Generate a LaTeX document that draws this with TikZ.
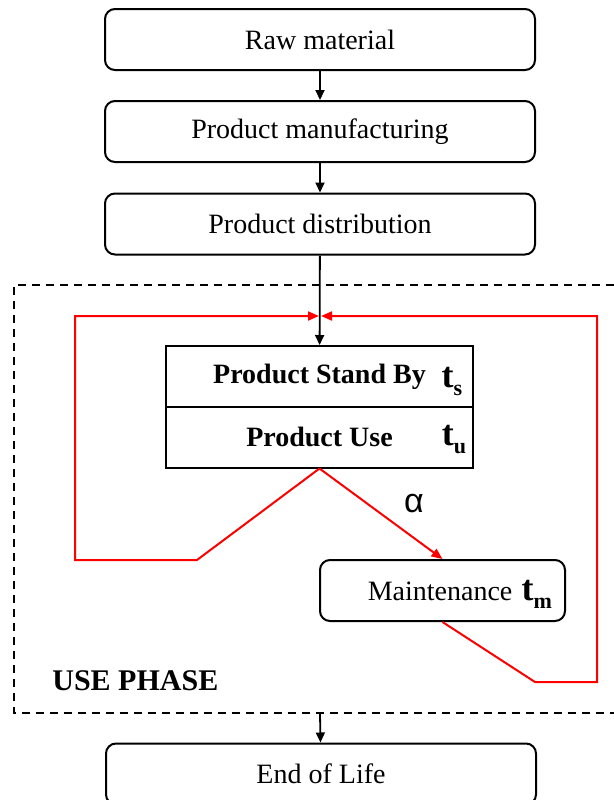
\documentclass[tikz,border=0pt]{standalone}
\usepackage{fontspec}
\setmainfont{Liberation Serif}
\newfontfamily\alphafont{Liberation Sans}
\usetikzlibrary{arrows.meta}
\newcommand{\tsub}[2]{{\fontsize{18}{18}\selectfont\bfseries #1}\raisebox{-4pt}[0pt][0pt]{\fontsize{11}{11}\selectfont\bfseries #2}}

\begin{document}
\begin{tikzpicture}[x=0.5pt,y=-0.5pt,
    font=\fontsize{14}{16}\selectfont,
    stagebox/.style={draw,line width=1pt,rounded corners=5pt,minimum width=215pt,minimum height=30.5pt,inner sep=0pt},
    phasebox/.style={draw,line width=1pt,minimum width=153.5pt,minimum height=30.5pt,inner sep=0pt,font=\fontsize{14}{16}\selectfont\bfseries},
    flow/.style={line width=0.9pt,-{Triangle[length=5pt,width=4.5pt]}},
    redline/.style={red,line width=1pt},
    redarrow/.style={redline,-{Triangle[length=5.5pt,width=4.5pt]}}]
\useasboundingbox (0,0) rectangle (614,800);
%life cycle stages
\foreach \n/\y/\t in {raw/39.5/Raw material,manu/131.5/Product manufacturing,dist/224/Product distribution}
    \node[stagebox] (\n) at (320,\y) {\t};
\node[stagebox] (eol) at (321,774) {End of Life};
%use phase
\draw[line width=1pt,dash pattern=on 4pt off 3pt] (614,285) -| (14,713) -- (614,713);
\node[anchor=west,inner sep=0pt,font=\fontsize{15}{17}\selectfont\bfseries] (phase) at (52,681) {USE PHASE};
\node[phasebox] (standby) at (319.5,376.5) {Product Stand By};
\node[phasebox] (use) at (319.5,437) {Product Use};
\node (ts) at (452,378) {\tsub{t}{s}};
\node (tu) at (454,436) {\tsub{t}{u}};
\node[stagebox,minimum width=122.5pt,text width=109.5pt,align=right,inner xsep=6.5pt] (maint) at (442.5,590.5) {Maintenance \tsub{t}{m}};
\node[font=\alphafont\fontsize{17}{17}\selectfont] (alpha) at (414,504) {α};
\coordinate (merge) at (320,316);
\coordinate (phaseout) at (320,713);
%arrows
\foreach \a/\b in {raw/manu,manu/dist}
    \draw[flow] (\a) -- (\b);
\draw[flow] (dist) -- (standby);
\draw[flow] (phaseout) -- (eol);
\draw[redarrow] (use.south) -- (maint.north);
\draw[redarrow,shorten >=0.5pt] (use.south) -- (197,560) -- (75,560) |- (merge);
\draw[redarrow,shorten >=0.5pt] (maint.south) -- (535,682) -- (597,682) |- (merge);
\end{tikzpicture}
\end{document}
